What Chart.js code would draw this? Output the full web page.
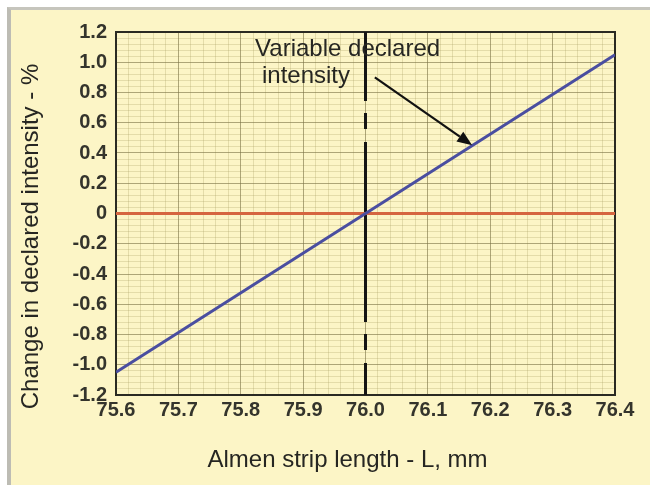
<!DOCTYPE html>
<html>
<head>
<meta charset="utf-8">
<script src="https://cdn.jsdelivr.net/npm/chart.js@4/dist/chart.umd.min.js"></script>
<style>
  html, body { margin: 0; padding: 0; background: #ffffff; width: 650px; height: 485px; overflow: hidden; }
  #frame { position: absolute; left: 7px; top: 7px; width: 643px; height: 478px; box-sizing: border-box;
           border-left: 4px solid #bdbcb4; border-top: 3px solid #c6c5bd; background: #fcf5c6; }
  #wrap { position: absolute; left: 0; top: 0; width: 650px; height: 485px; }
</style>
</head>
<body>
<div id="frame"></div>
<div id="wrap"><canvas id="c" width="650" height="485"></canvas></div>
<script>
// ---- data ----
const stripLength = [75.6, 76.0, 76.4];          // mm
const intensityChange = [-1.05, 0.0, 1.05];      // %
const zeroLine = [0, 0, 0];                      // %
const declaredLength = 76.0;                     // mm (vertical reference)
const xTickValues = [75.6, 75.7, 75.8, 75.9, 76.0, 76.1, 76.2, 76.3, 76.4];
const yTickValues = [-1.2, -1.0, -0.8, -0.6, -0.4, -0.2, 0, 0.2, 0.4, 0.6, 0.8, 1.0, 1.2];
const xTitle = 'Almen strip length - L, mm';
const yTitle = 'Change in declared intensity - %';
const noteLines = ['Variable declared', 'intensity'];
const noteAnchors = [[75.823, 1.04], [75.834, 0.865]];   // text positions (data units)
const arrowFrom = [76.015, 0.90];
const arrowTo = [76.171, 0.452];

const FONT = "'Liberation Sans', Arial, sans-serif";
const xMin = 75.6, xMax = 76.4, yMin = -1.2, yMax = 1.2;

const decor = {
  id: 'decor',
  beforeDatasetsDraw(chart) {
    const {ctx, chartArea: a} = chart;
    ctx.save();
    ctx.strokeStyle = '#2a2a22';
    ctx.lineWidth = 2;
    ctx.strokeRect(a.left, a.top, a.right - a.left, a.bottom - a.top);
    ctx.restore();
  },
  afterDraw(chart) {
    const {ctx, chartArea: a, scales} = chart;
    const xs = scales.x, ys = scales.y;
    ctx.save();
    ctx.fillStyle = '#262622';
    ctx.font = '24px ' + FONT;
    // x title
    ctx.textAlign = 'center';
    ctx.textBaseline = 'middle';
    ctx.fillText(xTitle, (a.left + a.right) / 2 - 18, 460);
    // y title
    ctx.save();
    ctx.translate(31, (a.top + a.bottom) / 2 + 23);
    ctx.rotate(-Math.PI / 2);
    ctx.fillText(yTitle, 0, 0);
    ctx.restore();
    // annotation text
    ctx.textAlign = 'left';
    ctx.textBaseline = 'alphabetic';
    ctx.font = '24px ' + FONT;
    noteLines.forEach((t, i) => {
      ctx.fillText(t, xs.getPixelForValue(noteAnchors[i][0]), ys.getPixelForValue(noteAnchors[i][1]));
    });
    // arrow
    const x1 = xs.getPixelForValue(arrowFrom[0]), y1 = ys.getPixelForValue(arrowFrom[1]);
    const x2 = xs.getPixelForValue(arrowTo[0]), y2 = ys.getPixelForValue(arrowTo[1]);
    const ang = Math.atan2(y2 - y1, x2 - x1);
    const hl = 15, hw = 6;
    const bx = x2 - hl * Math.cos(ang), by = y2 - hl * Math.sin(ang);
    ctx.strokeStyle = '#111';
    ctx.lineWidth = 2.2;
    ctx.beginPath();
    ctx.moveTo(x1, y1);
    ctx.lineTo(bx, by);
    ctx.stroke();
    ctx.fillStyle = '#111';
    ctx.beginPath();
    ctx.moveTo(x2, y2);
    ctx.lineTo(bx + hw * Math.sin(ang), by - hw * Math.cos(ang));
    ctx.lineTo(bx - hw * Math.sin(ang), by + hw * Math.cos(ang));
    ctx.closePath();
    ctx.fill();
    ctx.restore();
  }
};

const fixedTicks = (vals) => (axis) => { axis.ticks = vals.map(v => ({value: v})); };

new Chart(document.getElementById('c'), {
  type: 'scatter',
  data: {
    datasets: [
      {
        label: 'Declared length',
        data: [{x: declaredLength, y: yMax}, {x: declaredLength, y: yMin}],
        showLine: true, borderColor: '#151515', borderWidth: 3,
        borderDash: [180, 12, 16, 13], borderDashOffset: 111,
        pointRadius: 0, order: 3
      },
      {
        label: 'Zero',
        data: stripLength.map((x, i) => ({x, y: zeroLine[i]})),
        showLine: true, borderColor: '#d5653f', borderWidth: 3,
        pointRadius: 0, order: 2
      },
      {
        label: 'Change in declared intensity',
        data: stripLength.map((x, i) => ({x, y: intensityChange[i]})),
        showLine: true, borderColor: '#4a4ea0', borderWidth: 3,
        pointRadius: 0, order: 1
      }
    ]
  },
  options: {
    responsive: false,
    animation: false,
    events: [],
    layout: { padding: { left: 0, top: 32, right: 35, bottom: 0 } },
    plugins: { legend: { display: false }, tooltip: { enabled: false } },
    scales: {
      xMinor: {
        type: 'linear', position: 'bottom', min: xMin, max: xMax, z: -1,
        ticks: { display: false, stepSize: 0.02 },
        grid: { color: 'rgba(160,150,90,0.26)', lineWidth: 1, drawTicks: false },
        border: { display: false },
        afterFit(s) { s.height = 0; }
      },
      yMinor: {
        type: 'linear', position: 'left', min: yMin, max: yMax, z: -1,
        ticks: { display: false, stepSize: 0.04 },
        grid: { color: 'rgba(160,150,90,0.26)', lineWidth: 1, drawTicks: false },
        border: { display: false },
        afterFit(s) { s.width = 0; }
      },
      x: {
        type: 'linear', position: 'bottom', min: xMin, max: xMax,
        afterBuildTicks: fixedTicks(xTickValues),
        ticks: {
          font: { family: FONT, size: 20, weight: 'bold' }, color: '#34342c', padding: 3,
          maxRotation: 0, autoSkip: false,
          callback: (v) => Number(v).toFixed(1)
        },
        grid: { color: 'rgba(120,112,70,0.5)', lineWidth: 1, drawTicks: false },
        border: { display: false },
        afterFit(s) { s.height = 90; }
      },
      y: {
        type: 'linear', position: 'left', min: yMin, max: yMax,
        afterBuildTicks: fixedTicks(yTickValues),
        ticks: {
          font: { family: FONT, size: 20, weight: 'bold' }, color: '#34342c', padding: 9,
          autoSkip: false,
          callback: (v) => Math.abs(v) < 1e-9 ? '0' : Number(v).toFixed(1)
        },
        grid: { color: 'rgba(120,112,70,0.5)', lineWidth: 1, drawTicks: false },
        border: { display: false },
        afterFit(s) { s.width = 116; }
      }
    }
  },
  plugins: [decor]
});
</script>
</body>
</html>
